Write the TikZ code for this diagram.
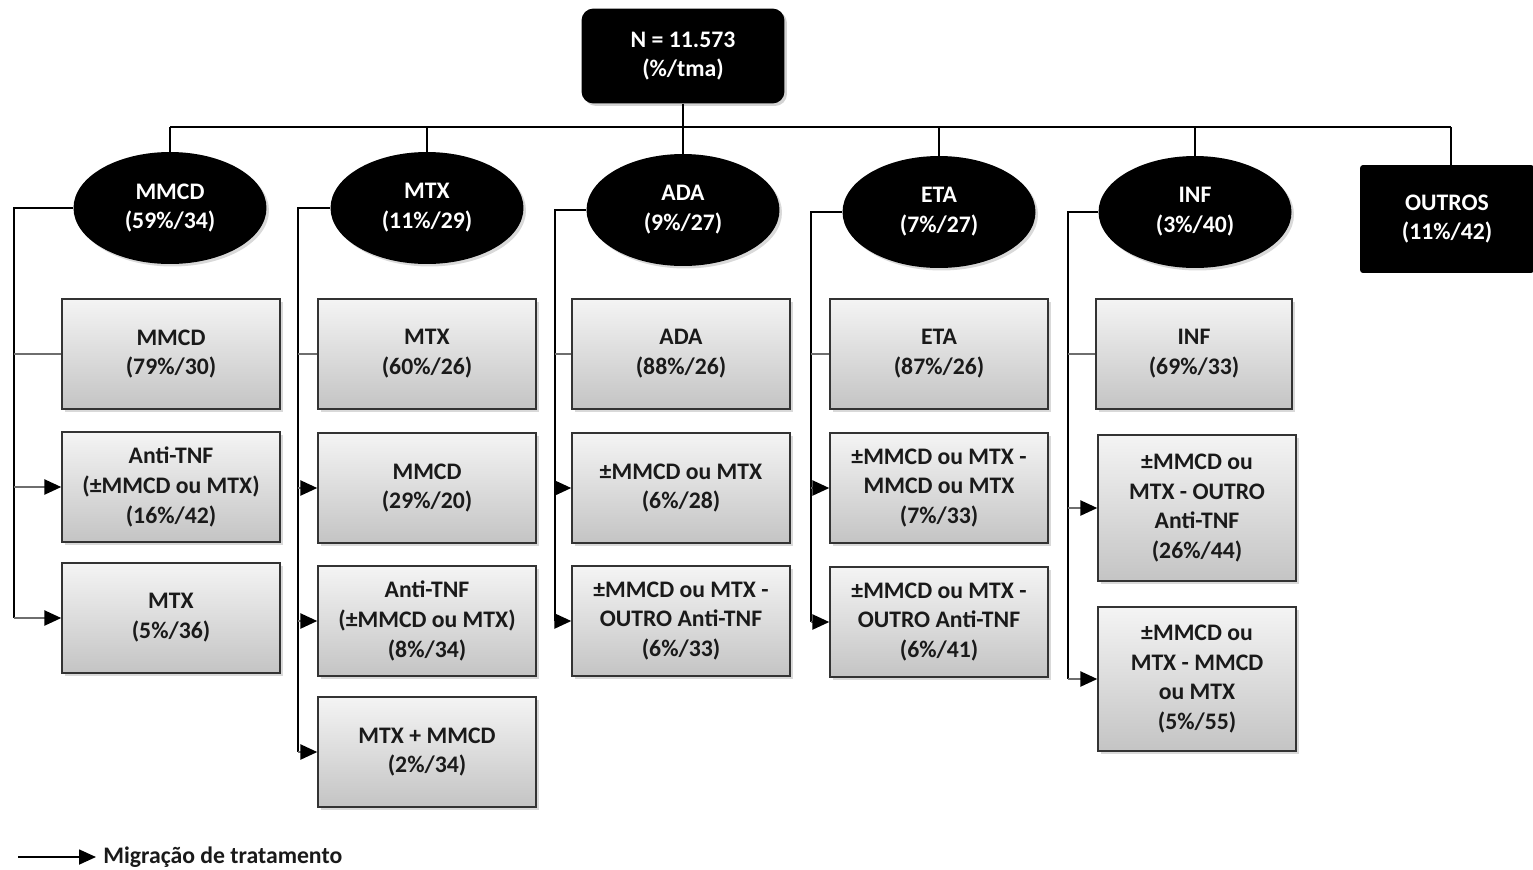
\documentclass[tikz,border=0pt]{standalone}
\usepackage{fontspec}
\setmainfont{Carlito}
\usetikzlibrary{shadows,arrows.meta,shapes.geometric}
\definecolor{txtgray}{HTML}{1A1A1A}
\definecolor{boxtop}{HTML}{F4F4F4}
\definecolor{boxbot}{HTML}{C4C4C4}
\definecolor{branchgray}{HTML}{6E6E6E}
\begin{document}
\begin{tikzpicture}[x=0.02cm,y=-0.02cm,
  every node/.style={font=\fontsize{13.5}{17}\selectfont\bfseries, align=center, inner sep=0pt},
  rootbox/.style={rectangle, rounded corners=0.24cm, fill=black, text=white, minimum width=4.06cm, minimum height=1.9cm, drop shadow={shadow xshift=0.05cm, shadow yshift=-0.05cm, opacity=0.35}},
  catell/.style={ellipse, fill=black, text=white, minimum width=3.86cm, minimum height=2.24cm, drop shadow={shadow xshift=0.05cm, shadow yshift=-0.05cm, opacity=0.3}},
  otherbox/.style={rectangle, rounded corners=0.06cm, fill=black, text=white, minimum width=3.48cm, minimum height=2.16cm},
  graybox/.style={rectangle, draw=black!80, line width=0.8pt, top color=boxtop, bottom color=boxbot, text=txtgray, minimum width=4.36cm, minimum height=2.2cm, drop shadow={shadow xshift=0.06cm, shadow yshift=-0.06cm, opacity=0.3}},
  bus/.style={draw=black, line width=1pt},
  trunk/.style={draw=black, line width=1pt},
  branch/.style={draw=branchgray, line width=1.4pt},
  migr/.style={draw=branchgray, line width=1.4pt, -{Triangle[length=0.34cm,width=0.3cm,color=black]}},
]
\useasboundingbox (0,0) rectangle (1533,869);

% root
\node[rootbox] (root) at (683,56) {N = 11.573\\(\%/tma)};

% categories
\node[catell] (e1) at (170,208) {MMCD\\(59\%/34)};
\node[catell] (e2) at (427,208) {MTX\\(11\%/29)};
\node[catell] (e3) at (683,210) {ADA\\(9\%/27)};
\node[catell] (e4) at (939,212) {ETA\\(7\%/27)};
\node[catell] (e5) at (1195,212) {INF\\(3\%/40)};
\node[otherbox] (e6) at (1447,219) {OUTROS\\(11\%/42)};

% bus
\coordinate (busL) at (170,127);
\coordinate (busR) at (1451,127);
\coordinate (busC) at (683,127);
\draw[bus] (root.south) -- (busC);
\draw[bus] (busL) -- (busR);
\draw[bus] (busL) -- (e1.north);
\draw[bus] (427,127) -- (e2.north);
\draw[bus] (busC) -- (e3.north);
\draw[bus] (939,127) -- (e4.north);
\draw[bus] (1195,127) -- (e5.north);
\draw[bus] (busR) -- (busR |- e6.north);

% column 1
\node[graybox] (b11) at (171,354) {MMCD\\(79\%/30)};
\node[graybox] (b12) at (171,487) {Anti-TNF\\(±MMCD ou MTX)\\(16\%/42)};
\node[graybox] (b13) at (171,618) {MTX\\(5\%/36)};
% column 2
\node[graybox] (b21) at (427,354) {MTX\\(60\%/26)};
\node[graybox] (b22) at (427,488) {MMCD\\(29\%/20)};
\node[graybox] (b23) at (427,621) {Anti-TNF\\(±MMCD ou MTX)\\(8\%/34)};
\node[graybox] (b24) at (427,752) {MTX + MMCD\\(2\%/34)};
% column 3
\node[graybox] (b31) at (681,354) {ADA\\(88\%/26)};
\node[graybox] (b32) at (681,488) {±MMCD ou MTX\\(6\%/28)};
\node[graybox] (b33) at (681,621) {±MMCD ou MTX -\\OUTRO Anti-TNF\\(6\%/33)};
% column 4
\node[graybox] (b41) at (939,354) {ETA\\(87\%/26)};
\node[graybox] (b42) at (939,488) {±MMCD ou MTX -\\MMCD ou MTX\\(7\%/33)};
\node[graybox] (b43) at (939,622) {±MMCD ou MTX -\\OUTRO Anti-TNF\\(6\%/41)};
% column 5
\node[graybox, minimum width=3.92cm] (b51) at (1194,354) {INF\\(69\%/33)};
\node[graybox, minimum width=3.96cm, minimum height=2.92cm] (b52) at (1197,508) {±MMCD ou\\MTX - OUTRO\\Anti-TNF\\(26\%/44)};
\node[graybox, minimum width=3.96cm, minimum height=2.88cm] (b53) at (1197,679) {±MMCD ou\\MTX - MMCD\\ou MTX\\(5\%/55)};

% trunks
\coordinate (t1) at (14,0);
\coordinate (t2) at (298,0);
\coordinate (t3) at (555,0);
\coordinate (t4) at (811,0);
\coordinate (t5) at (1068,0);
\draw[trunk] (e1.west) -| (t1 |- b13.west);
\draw[trunk] (e2.west) -| (t2 |- b24.west);
\draw[trunk] (e3.west) -| (t3 |- b33.west);
\draw[trunk] (e4.west) -| (t4 |- b43.west);
\draw[trunk] (e5.west) -| (t5 |- b53.west);

% branches
\draw[branch] (t1 |- b11.west) -- (b11.west);
\draw[migr] (t1 |- b12.west) -- (b12.west);
\draw[migr] (t1 |- b13.west) -- (b13.west);
\draw[branch] (t2 |- b21.west) -- (b21.west);
\draw[migr] (t2 |- b22.west) -- (b22.west);
\draw[migr] (t2 |- b23.west) -- (b23.west);
\draw[migr] (t2 |- b24.west) -- (b24.west);
\draw[branch] (t3 |- b31.west) -- (b31.west);
\draw[migr] (t3 |- b32.west) -- (b32.west);
\draw[migr] (t3 |- b33.west) -- (b33.west);
\draw[branch] (t4 |- b41.west) -- (b41.west);
\draw[migr] (t4 |- b42.west) -- (b42.west);
\draw[migr] (t4 |- b43.west) -- (b43.west);
\draw[branch] (t5 |- b51.west) -- (b51.west);
\draw[migr] (t5 |- b52.west) -- (b52.west);
\draw[migr] (t5 |- b53.west) -- (b53.west);

% legend
\coordinate (la) at (18,857);
\node[anchor=west, text=txtgray] (lt) at (103,857) {Migração de tratamento};
\draw[line width=1pt, -{Triangle[length=0.34cm,width=0.3cm]}] (la) -- ([xshift=-0.14cm]lt.west);
\end{tikzpicture}
\end{document}
